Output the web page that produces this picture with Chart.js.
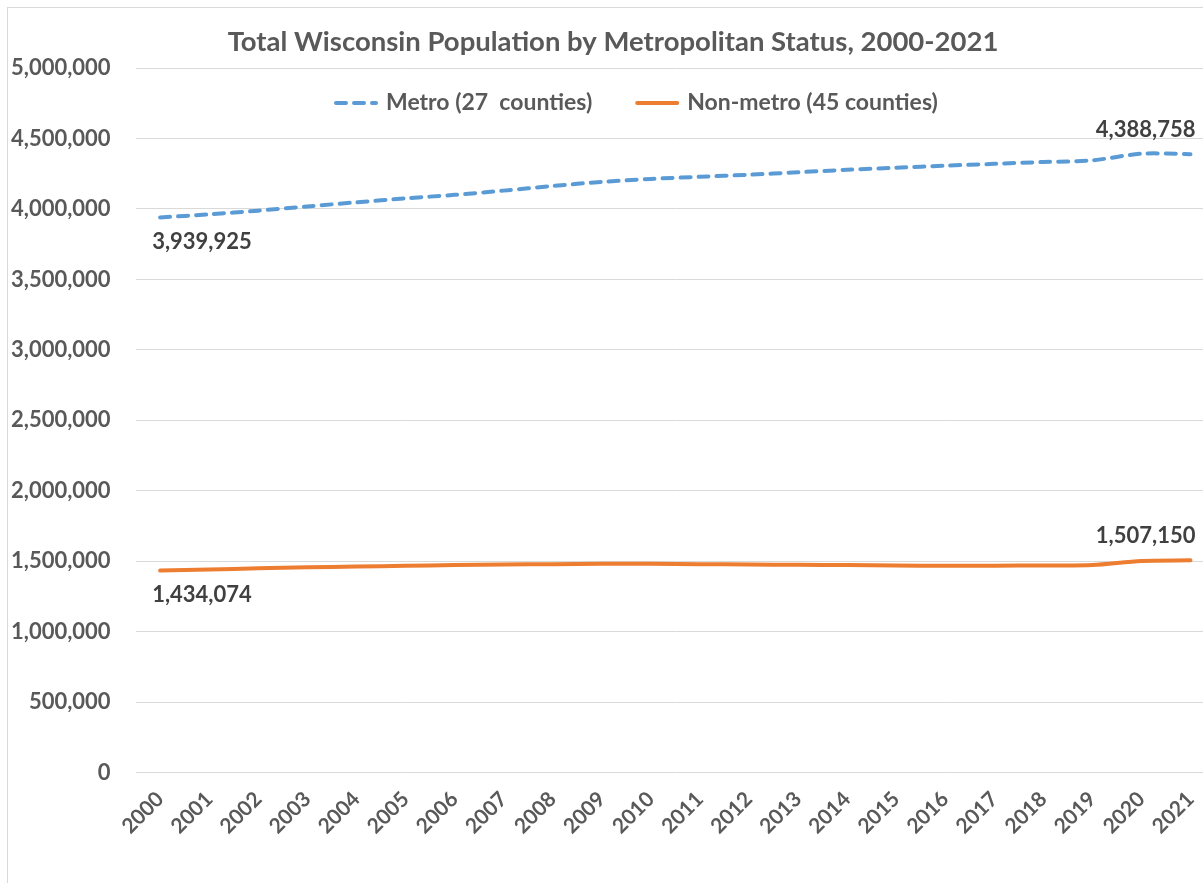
<!DOCTYPE html>
<html><head><meta charset="utf-8">
<script src="https://cdn.jsdelivr.net/npm/chart.js@4.4.1/dist/chart.umd.min.js"></script>
<style>
html,body{margin:0;padding:0;overflow:hidden;background:#fff;width:1203px;height:883px}
#wrap{position:absolute;left:0;top:0;width:1215px;height:883px}
</style>
</head><body><div id="wrap"><canvas id="c" width="1215" height="883"></canvas></div>
<script>
const chartTitle = 'Total Wisconsin Population by Metropolitan Status, 2000-2021';
const years = ['2000','2001','2002','2003','2004','2005','2006','2007','2008','2009','2010',
  '2011','2012','2013','2014','2015','2016','2017','2018','2019','2020','2021'];
const seriesNames = ['Metro (27  counties)', 'Non-metro (45 counties)'];
const metro = [3939925,3962000,3988000,4018000,4047000,4075000,4100000,4130000,4163000,4192000,4213000,
  4228000,4243000,4260000,4278000,4293000,4307000,4320000,4333000,4345000,4392000,4388758];
const nonMetro = [1434074,1442000,1450000,1457000,1463000,1468000,1473000,1477000,1480000,1482000,1482000,
  1480000,1477000,1475000,1473000,1470000,1469000,1469000,1471000,1474000,1503000,1507150];
const yTicks = [0,500000,1000000,1500000,2000000,2500000,3000000,3500000,4000000,4500000,5000000];

const FONT = 'Lato, "Open Sans", "Noto Sans", sans-serif';
const AXIS_COLOR = '#595959';
const LABEL_COLOR = '#404040';
const fmt = v => Number(v).toLocaleString('en-US');

const framePlugin = {
  id: 'frame',
  beforeDraw(chart) {
    const ctx = chart.ctx;
    ctx.save();
    ctx.fillStyle = '#ffffff';
    ctx.fillRect(0, 0, chart.width, chart.height);
    ctx.strokeStyle = '#d9d9d9';
    ctx.lineWidth = 1;
    ctx.strokeRect(7.5, 7.5, chart.width + 50, chart.height + 50);
    ctx.restore();
  }
};

const legendPlugin = {
  id: 'customLegend',
  afterDraw(chart, args, opts) {
    const ctx = chart.ctx;
    ctx.save();
    ctx.font = 'bold 23px ' + FONT;
    ctx.textBaseline = 'middle';
    ctx.textAlign = 'left';
    let x = opts.x;
    const y = opts.y;
    chart.data.datasets.forEach(ds => {
      ctx.strokeStyle = ds.borderColor;
      ctx.lineWidth = ds.borderWidth;
      ctx.lineCap = 'round';
      ctx.setLineDash(ds.borderDash || []);
      ctx.beginPath();
      ctx.moveTo(x + 2, y);
      ctx.lineTo(x + opts.sample - 2, y);
      ctx.stroke();
      ctx.setLineDash([]);
      x += opts.sample + opts.textGap;
      ctx.fillStyle = AXIS_COLOR;
      ctx.fillText(ds.label, x, y);
      x += ctx.measureText(ds.label).width + opts.itemGap;
    });
    ctx.restore();
  }
};

const endLabelPlugin = {
  id: 'endLabels',
  afterDatasetsDraw(chart) {
    const ctx = chart.ctx;
    ctx.save();
    ctx.font = 'bold 22px ' + FONT;
    ctx.fillStyle = LABEL_COLOR;
    ctx.textBaseline = 'middle';
    chart.data.datasets.forEach((ds, i) => {
      const meta = chart.getDatasetMeta(i);
      const first = meta.data[0];
      const last = meta.data[meta.data.length - 1];
      ctx.textAlign = 'left';
      ctx.fillText(fmt(ds.data[0]), first.x - 8, first.y + 24);
      ctx.textAlign = 'right';
      ctx.fillText(fmt(ds.data[ds.data.length - 1]), last.x + 5, last.y - 24);
    });
    ctx.restore();
  }
};

new Chart(document.getElementById('c'), {
  type: 'line',
  data: {
    labels: years,
    datasets: [
      {
        label: seriesNames[0], data: metro,
        borderColor: '#5B9BD5', backgroundColor: '#5B9BD5',
        borderWidth: 4, borderDash: [10, 8], borderCapStyle: 'round',
        pointRadius: 0, tension: 0.3, fill: false
      },
      {
        label: seriesNames[1], data: nonMetro,
        borderColor: '#ED7D31', backgroundColor: '#ED7D31',
        borderWidth: 4, borderCapStyle: 'round',
        pointRadius: 0, tension: 0.3, fill: false
      }
    ]
  },
  options: {
    responsive: false,
    animation: false,
    layout: { autoPadding: false, padding: { left: 11, right: 0, top: 1, bottom: 38 } },
    plugins: {
      legend: { display: false },
      tooltip: { enabled: false },
      title: {
        display: true, text: chartTitle, color: AXIS_COLOR,
        font: { family: FONT, size: 27.5, weight: 'bold', lineHeight: 1.2 },
        padding: { top: 25, bottom: 9 }
      },
      customLegend: { x: 334, y: 103, sample: 44, textGap: 8, itemGap: 43 }
    },
    scales: {
      x: {
        type: 'category',
        offset: true,
        grid: { display: false },
        border: { display: false },
        ticks: {
          autoSkip: false, minRotation: 45, maxRotation: 45, padding: 6,
          color: AXIS_COLOR, font: { family: FONT, size: 21, weight: 'bold' }
        }
      },
      y: {
        min: 0, max: 5000000,
        afterBuildTicks: s => { s.ticks = yTicks.map(v => ({ value: v })); },
        afterFit: s => { s.width = s.width - s.options.ticks.padding; },
        grid: { color: '#d9d9d9', lineWidth: 1, drawTicks: false },
        border: { display: false },
        ticks: {
          padding: 25, color: AXIS_COLOR,
          font: { family: FONT, size: 22, weight: 'bold' },
          callback: v => fmt(v)
        }
      }
    }
  },
  plugins: [framePlugin, legendPlugin, endLabelPlugin]
});
</script>
</body></html>
